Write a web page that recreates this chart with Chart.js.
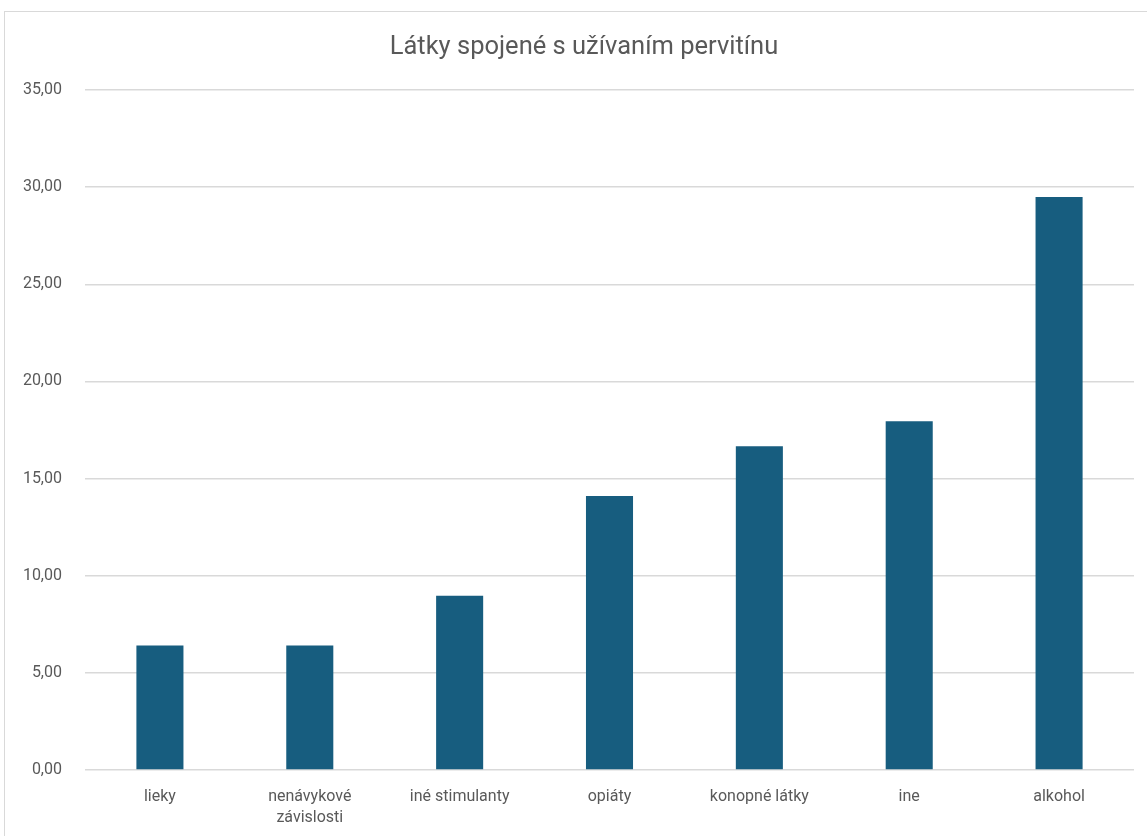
<!DOCTYPE html>
<html>
<head>
<meta charset="utf-8">
<script src="https://cdn.jsdelivr.net/npm/chart.js@4"></script>
<style>
    html, body { margin: 0; padding: 0; background: #fff; }
    #wrap { position: relative; width: 1147px; height: 836px; overflow: hidden; }
    #frame { position: absolute; left: 4px; top: 11px; width: 1160px; height: 850px; border: 1px solid #d9d9d9; box-sizing: border-box; }
    #chart { position: absolute; left: 0; top: 0; }
    #title {
        position: absolute; left: 284px; width: 600px; top: 30px; height: 30px;
        line-height: 30px; text-align: center;
        font-family: Roboto, "Open Sans", sans-serif; font-size: 25.5px; color: #595959;
    }
</style>
</head>
<body>
<div id="wrap">
    <div id="frame"></div>
    <canvas id="chart" width="1147" height="836"></canvas>
    <div id="title">Látky spojené s užívaním pervitínu</div>
</div>
<script>
const categories = ['lieky', ['nenávykové', 'závislosti'], 'iné stimulanty', 'opiáty', 'konopné látky', 'ine', 'alkohol'];
const values = [6.41, 6.41, 8.97, 14.10, 16.67, 17.95, 29.49];
const yTicks = [0, 5, 10, 15, 20, 25, 30, 35];

const textColor = '#595959';
const fontFamily = 'Roboto, "Open Sans", sans-serif';

const ctx = document.getElementById('chart').getContext('2d');
const chart = new Chart(ctx, {
    type: 'bar',
    data: {
        labels: categories,
        datasets: [{
            data: values,
            backgroundColor: '#175d7f',
            borderWidth: 0,
            categoryPercentage: 1,
            barPercentage: 0.314
        }]
    },
    options: {
        responsive: false,
        animation: false,
        layout: { padding: { left: 0, right: 13, top: 90, bottom: 0 } },
        plugins: {
            legend: { display: false },
            tooltip: { enabled: false },
            title: { display: false }
        },
        scales: {
            x: {
                grid: { display: false, drawTicks: false },
                border: { display: false },
                ticks: {
                    color: textColor,
                    font: { family: fontFamily, size: 16, lineHeight: 1.3 },
                    padding: 17,
                    maxRotation: 0,
                    autoSkip: false
                },
                afterFit: s => { s.height = 66; }
            },
            y: {
                min: 0,
                max: 35,
                afterBuildTicks: s => { s.ticks = yTicks.map(v => ({ value: v })); },
                grid: { color: '#d9d9d9', lineWidth: 1.5, drawTicks: false },
                border: { display: false },
                ticks: {
                    color: textColor,
                    font: { family: fontFamily, size: 16 },
                    padding: 23,
                    callback: v => v.toFixed(2).replace('.', ',')
                },
                afterFit: s => { s.width = 85; }
            }
        }
    }
});
</script>
</body>
</html>
